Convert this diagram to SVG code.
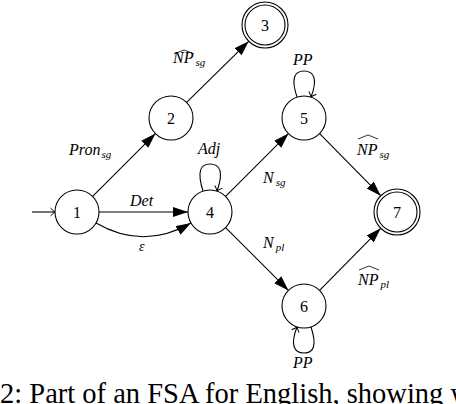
<svg xmlns="http://www.w3.org/2000/svg" width="456" height="404" viewBox="0 0 456 404">
<style>
.st{fill:#fff;stroke:#000;stroke-width:1.1}
.num{font-size:16px;text-anchor:middle;fill:#000}
.lab{font-style:italic;font-size:16px;fill:#000}
.sub{font-size:11px}
.e{fill:none;stroke:#000;stroke-width:1.1}
.ea{marker-end:url(#tri)}
.eo{marker-end:url(#to)}
.hat{fill:none;stroke:#000;stroke-width:0.8}
.cap{font-size:28.5px;fill:#000}
</style>
<defs>
<marker id="tri" markerUnits="userSpaceOnUse" viewBox="0 0 15 10" refX="15" refY="5" markerWidth="15" markerHeight="10" orient="auto">
<path d="M0,0 L15,5 L0,10 z" fill="#000"/>
</marker>
<marker id="to" markerUnits="userSpaceOnUse" viewBox="-6 -6 8 12" refX="0" refY="0" markerWidth="8" markerHeight="12" orient="auto">
<path d="M-4.5,-4 Q-1.5,-1 0,0 Q-1.5,1 -4.5,4" fill="none" stroke="#000" stroke-width="1"/>
</marker>
</defs>
<rect width="456" height="404" fill="#fff"/>
<g font-family="'Liberation Serif', 'DejaVu Serif', serif">
<g id="connectors">
<line class="e eo" x1="32" y1="212" x2="55" y2="212"/>
<line class="e ea" x1="92.6" y1="196.4" x2="155.4" y2="133.6"/>
<line class="e ea" x1="186.6" y1="102.4" x2="248.7" y2="41.3"/>
<line class="e ea" x1="99" y1="212" x2="188" y2="212"/>
<path class="e ea" d="M96,223 C128,241.5 159,241.5 191,223"/>
<line class="e ea" x1="225.6" y1="196.4" x2="288.4" y2="133.6"/>
<line class="e ea" x1="319.6" y1="133.6" x2="380.7" y2="195.7"/>
<line class="e ea" x1="225.6" y1="227.6" x2="288.4" y2="290.4"/>
<line class="e ea" x1="319.6" y1="290.4" x2="380.7" y2="228.3"/>
<path class="e eo" d="M203,191 C197,172 200,164 210,164 C220,164 224,172 217,191"/>
<path class="e eo" d="M297,97 C291,79 294,71 304,71 C314,71 318,79 311,97"/>
<path class="e eo" d="M311,327 C317,345 314,353 304,353 C294,353 290,345 297,327"/>
<text class="lab" x="69" y="155">Pron<tspan class="sub" dy="3" dx="1">sg</tspan></text>
<path class="hat" d="M174,54 L184,50 L194,54"/>
<text class="lab" x="173" y="63">NP<tspan class="sub" dy="3" dx="2">sg</tspan></text>
<text class="lab" x="130" y="206">Det</text>
<text class="lab" x="139" y="251" style="font-size:14px">ε</text>
<text class="lab" x="198" y="154">Adj</text>
<text class="lab" x="263" y="183">N<tspan class="sub" dy="3" dx="2">sg</tspan></text>
<text class="lab" x="293" y="65">PP</text>
<path class="hat" d="M358,139 L368,135 L378,139"/>
<text class="lab" x="357" y="155">NP<tspan class="sub" dy="3" dx="2">sg</tspan></text>
<text class="lab" x="263" y="248">N<tspan class="sub" dy="3" dx="2">pl</tspan></text>
<path class="hat" d="M359,270 L369,266 L379,270"/>
<text class="lab" x="358" y="285">NP<tspan class="sub" dy="3" dx="2">pl</tspan></text>
<text class="lab" x="293" y="368">PP</text>
</g>
<g id="n1"><circle class="st" cx="77" cy="212" r="22"/><text class="num" x="77" y="217.5">1</text></g>
<g id="n2"><circle class="st" cx="171" cy="118" r="22"/><text class="num" x="171" y="123.5">2</text></g>
<g id="n3"><circle class="st" cx="265" cy="25" r="23"/><circle class="st" cx="265" cy="25" r="20"/><text class="num" x="265" y="30.5">3</text></g>
<g id="n4"><circle class="st" cx="210" cy="212" r="22"/><text class="num" x="210" y="217.5">4</text></g>
<g id="n5"><circle class="st" cx="304" cy="118" r="22"/><text class="num" x="304" y="123.5">5</text></g>
<g id="n6"><circle class="st" cx="304" cy="306" r="22"/><text class="num" x="304" y="311.5">6</text></g>
<g id="n7"><circle class="st" cx="397" cy="212" r="23"/><circle class="st" cx="397" cy="212" r="20"/><text class="num" x="397" y="217.5">7</text></g>
<text class="cap" x="0" y="403">2: Part of an FSA for English, showing w</text>
</g>
</svg>
